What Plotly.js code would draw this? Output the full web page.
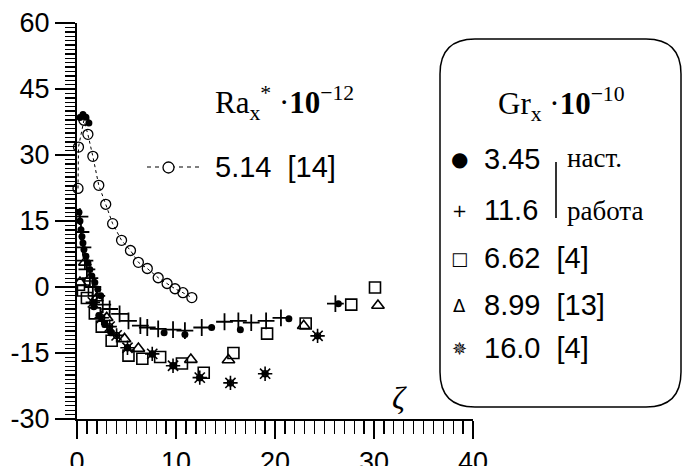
<!DOCTYPE html>
<html>
<head>
<meta charset="utf-8">
<script src="https://cdn.plot.ly/plotly-3.0.1.min.js"></script>
<style>html,body{margin:0;padding:0;background:#fff;}#chart{width:683px;height:466px;}</style>
</head>
<body>
<div id="chart"></div>
<script>
// ---- data ----
// Ra*_x·10^-12 = 5.14 [14]  (open circles, dashed line)
const raX = [0.1, 0.15, 0.7, 1.1, 1.6, 2.2, 2.9, 3.6, 4.5, 5.4, 6.2, 7.1, 8.2, 9.1, 9.9, 10.7, 11.6];
const raY = [22.4, 31.8, 37.9, 34.7, 29.7, 23.1, 18.8, 14.4, 10.6, 8.3, 5.6, 4.2, 2.1, 0.8, -0.4, -1.3, -2.4];
// Gr_x·10^-10 = 3.45 (this work, filled dots)
const g345X = [0.3, 0.6, 0.9, 1.2, 0.2, 0.3, 0.4, 0.5, 0.6, 0.7, 0.9, 1.1, 1.3, 1.5, 1.8, 2.1, 2.4, 1.7, 2.2, 2.8, 3.4, 5.1, 7.6, 9.7, 12.4, 8.8, 10.9, 13.6, 16.5, 21.4, 26.4];
const g345Y = [38.5, 39.2, 38.6, 37.3, 17, 15, 13, 11.5, 10, 8.5, 7, 5.5, 4, 2.5, 1, -0.5, -2, -4.5, -6.5, -8.5, -10.2, -13.8, -15.2, -17.9, -20.6, -10.4, -10.8, -9.2, -9.7, -7.2, -3.8];
// Gr_x·10^-10 = 11.6 (this work, plus)
const g116X = [0.3, 0.4, 0.6, 0.8, 1.0, 1.3, 1.6, 2.0, 2.6, 3.3, 4.3, 5.2, 6.4, 7.1, 8.2, 9.7, 10.9, 12.6, 14.9, 16.3, 17.6, 19.1, 20.6, 26.1];
const g116Y = [16, 12.5, 9, 6, 4, 2, 0, -2, -4.0, -5.0, -6.1, -7.7, -8.8, -9.2, -9.5, -9.7, -9.9, -9.2, -7.9, -7.7, -8.1, -7.7, -7.0, -3.8];
// Gr_x·10^-10 = 6.62 [4] (squares)
const g662X = [0.2, 0.6, 1.0, 1.8, 2.5, 3.5, 5.2, 6.6, 8.4, 10.6, 12.8, 15.8, 19.2, 23.1, 27.7, 30.1];
const g662Y = [0.5, -0.8, -2.5, -6.0, -9.0, -12.2, -15.6, -16.3, -15.9, -17.4, -19.5, -15.0, -10.6, -8.3, -4.0, -0.1];
// Gr_x·10^-10 = 8.99 [13] (triangles)
const g899X = [0.3, 0.8, 1.3, 2.0, 3.0, 4.8, 6.2, 11.5, 15.3, 22.9, 30.4];
const g899Y = [1.0, 5.6, 2.0, -2.5, -7.0, -11.8, -14.0, -16.5, -16.6, -8.8, -4.2];
// Gr_x·10^-10 = 16.0 [4] (sun-shaped asterisks)
const g160X = [1.6, 2.5, 3.3, 4.0, 5.1, 7.6, 9.7, 12.4, 15.5, 19.0, 24.3];
const g160Y = [-3.5, -7.0, -9.0, -11.0, -13.8, -15.2, -17.9, -20.6, -21.8, -19.7, -11.1];

const xTickVals = [0, 10, 20, 30, 40];
const xTickText = ['0', '10', '20', '30', '40'];
const yTickVals = [-30, -15, 0, 15, 30, 45, 60];
const yTickText = ['-30', '-15', '0', '15', '30', '45', '60'];

const legendTitle = 'Gr<sub>x</sub> ·<b>10</b><sup>−10</sup>';
const legendRows = ['3.45', '11.6', '6.62  [4]', '8.99  [13]', '16.0  [4]'];
const legendGlyphs = ['●', '+', '□', 'Δ', '✵'];
const legendNote = ['наст.', 'работа'];
const raTitle = 'Ra<sub>x</sub><sup>*</sup> ·<b>10</b><sup>−12</sup>';
const raLabel = '5.14  [14]';

// ---- layout helpers (plot area: x 77..473 px, y 23..419 px) ----
const L = 77, T = 23, W = 396, H = 396;
const px = v => (v - L) / W;
const py = v => (T + H - v) / H;

const SANS = 'Liberation Sans Narrow, Liberation Sans, Arial, sans-serif';
const SANS2 = 'Liberation Sans, Arial, sans-serif';
const SERIF = 'Liberation Serif, Times New Roman, serif';

const traces = [
  {x: raX, y: raY, mode: 'lines+markers', type: 'scatter', cliponaxis: false,
   line: {color: 'black', width: 1, dash: '3px,3px'},
   marker: {symbol: 'circle-open', size: 10, color: 'black', line: {width: 1.3}}},
  {x: g662X, y: g662Y, mode: 'markers', type: 'scatter',
   marker: {symbol: 'square-open', size: 11, color: 'black', line: {width: 1.6}}},
  {x: g899X, y: g899Y, mode: 'markers', type: 'scatter',
   marker: {symbol: 'triangle-up-open', size: 11, color: 'black', line: {width: 1.6}}},
  {x: g160X, y: g160Y, mode: 'markers', type: 'scatter',
   marker: {symbol: 'asterisk-open', size: 12, color: 'black', line: {width: 1.6}}},
  {x: g160X, y: g160Y, mode: 'markers', type: 'scatter',
   marker: {symbol: 'circle-open', size: 6, color: 'black', line: {width: 1.4}}},
  {x: g116X, y: g116Y, mode: 'markers', type: 'scatter',
   marker: {symbol: 'cross-thin-open', size: 12, color: 'black', line: {width: 1.8}}},
  {x: g345X, y: g345Y, mode: 'markers', type: 'scatter',
   marker: {symbol: 'circle', size: 7, color: 'black'}}
];

const r = 35 / W;
const bx0 = px(440), bx1 = px(681), by0 = py(407), by1 = py(39);
const boxPath = `M ${bx0 + r},${by1} L ${bx1 - r},${by1} Q ${bx1},${by1} ${bx1},${by1 - r} ` +
  `L ${bx1},${by0 + r} Q ${bx1},${by0} ${bx1 - r},${by0} L ${bx0 + r},${by0} ` +
  `Q ${bx0},${by0} ${bx0},${by0 + r} L ${bx0},${by1 - r} Q ${bx0},${by1} ${bx0 + r},${by1} Z`;

const rowY = [159, 210, 258, 305, 348];
const annotations = [
  {text: raTitle, x: px(213), y: py(103), xanchor: 'left', yanchor: 'middle',
   font: {family: SERIF, size: 31, color: 'black'}},
  {text: raLabel, x: px(213), y: py(167), xanchor: 'left', yanchor: 'middle',
   font: {family: SANS2, size: 29, color: 'black'}},
  {text: legendTitle, x: px(496), y: py(104), xanchor: 'left', yanchor: 'middle',
   font: {family: SERIF, size: 31, color: 'black'}},
  {text: 'ζ', x: px(399), y: py(398), xanchor: 'center', yanchor: 'middle',
   font: {family: SERIF, size: 32, color: 'black', style: 'italic'}},
  {text: legendNote[0], x: px(565), y: py(158), xanchor: 'left', yanchor: 'middle',
   font: {family: SERIF, size: 27, color: 'black'}},
  {text: legendNote[1], x: px(565), y: py(211), xanchor: 'left', yanchor: 'middle',
   font: {family: SERIF, size: 27, color: 'black'}}
];
legendRows.forEach((t, i) => {
  annotations.push({text: t, x: px(482), y: py(rowY[i]), xanchor: 'left', yanchor: 'middle',
    font: {family: SANS2, size: 29, color: 'black'}});
  annotations.push({text: legendGlyphs[i], x: px(459), y: py(rowY[i]), xanchor: 'center', yanchor: 'middle',
    font: {family: 'DejaVu Sans, sans-serif', size: i === 0 ? 20 : 18, color: 'black'}});
});
annotations.forEach(a => { a.xref = 'paper'; a.yref = 'paper'; a.showarrow = false; });

const shapes = [
  {type: 'path', xref: 'paper', yref: 'paper', path: boxPath, line: {color: 'black', width: 1.5}, fillcolor: 'rgba(0,0,0,0)'},
  {type: 'line', xref: 'paper', yref: 'paper', x0: px(147), x1: px(200), y0: py(167), y1: py(167),
   line: {color: 'black', width: 1.2, dash: '4px,4px'}},
  {type: 'circle', xref: 'paper', yref: 'paper', x0: px(163), x1: px(174), y0: py(162), y1: py(173),
   line: {color: 'black', width: 1.3}, fillcolor: 'white'},
  {type: 'line', xref: 'paper', yref: 'paper', x0: px(556), x1: px(556), y0: py(162), y1: py(218),
   line: {color: 'black', width: 1.6}}
];

const layout = {
  width: 683, height: 466,
  margin: {l: 77, r: 683 - 473, t: 23, b: 466 - 419, pad: 0},
  paper_bgcolor: 'white', plot_bgcolor: 'white',
  showlegend: false,
  xaxis: {range: [0, 40], tickmode: 'array', tickvals: xTickVals, ticktext: xTickText,
    ticks: 'outside', ticklen: 18, tickwidth: 1.6, tickcolor: 'black',
    minor: {tickmode: 'linear', tick0: 0, dtick: 1, ticks: 'outside', ticklen: 13, tickwidth: 1.4, tickcolor: 'black', showgrid: false},
    showline: true, linewidth: 2, linecolor: 'black', showgrid: false, zeroline: false,
    tickfont: {family: SANS, size: 27, color: 'black'}, fixedrange: true},
  yaxis: {range: [-30, 60], tickmode: 'array', tickvals: yTickVals, ticktext: yTickText,
    ticks: 'outside', ticklen: 20, tickwidth: 1.6, tickcolor: 'black',
    minor: {tickmode: 'linear', tick0: 0, dtick: 1, ticks: 'outside', ticklen: 10, tickwidth: 1.4, tickcolor: 'black', showgrid: false},
    showline: true, linewidth: 2, linecolor: 'black', showgrid: false, zeroline: false,
    tickfont: {family: SANS, size: 27, color: 'black'}, fixedrange: true},
  annotations: annotations,
  shapes: shapes
};

Plotly.newPlot('chart', traces, layout, {staticPlot: true, displayModeBar: false});
</script>
</body>
</html>
